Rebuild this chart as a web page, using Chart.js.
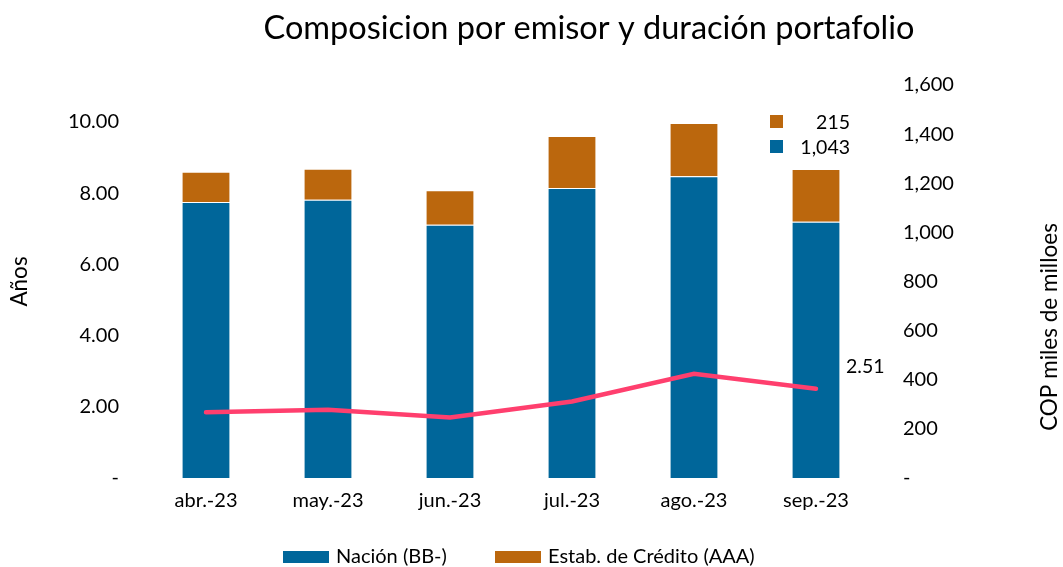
<!DOCTYPE html>
<html>
<head>
<meta charset="utf-8">
<script src="https://cdn.jsdelivr.net/npm/chart.js@4"></script>
<style>
  body { margin: 0; background: #fff; }
  #wrap { width: 1063px; height: 567px; }
</style>
</head>
<body>
<div id="wrap"><canvas id="chart" width="1063" height="567"></canvas></div>
<script>
let months = ['abr.-23', 'may.-23', 'jun.-23', 'jul.-23', 'ago.-23', 'sep.-23'];
let nacion = [1124, 1133, 1031, 1181, 1229, 1043];
let estab = [123, 126, 141, 211, 216, 215];
let duracion = [1.85, 1.92, 1.70, 2.15, 2.93, 2.51];
let leftTicks = [0, 2, 4, 6, 8, 10];
let rightTicks = [0, 200, 400, 600, 800, 1000, 1200, 1400, 1600];
let seriesNames = ['Nación (BB-)', 'Estab. de Crédito (AAA)'];

let font = 'Lato, "Open Sans", sans-serif';
let blue = '#00669a';
let orange = '#bb670d';
let pink = '#ff3f6e';

// titulo, leyenda, titulo eje derecho y etiquetas sueltas
let extras = {
  id: 'extras',
  afterDraw: (chart) => {
    let ctx = chart.ctx;
    ctx.save();
    ctx.fillStyle = '#000';
    ctx.font = '32.5px ' + font;
    ctx.textAlign = 'center';
    ctx.textBaseline = 'middle';
    ctx.fillText('Composicion por emisor y duración portafolio', 589, 29);

    // titulo eje derecho
    ctx.save();
    ctx.translate(1050, 327);
    ctx.rotate(-Math.PI / 2);
    ctx.font = '22.5px ' + font;
    ctx.fillText('COP miles de milloes', 0, 0);
    ctx.restore();

    // etiquetas del ultimo mes
    let last = months.length - 1;
    ctx.font = '19.5px ' + font;
    ctx.textAlign = 'right';
    ctx.fillStyle = orange;
    ctx.fillRect(770, 115, 13, 13);
    ctx.fillStyle = blue;
    ctx.fillRect(770, 140, 13, 13);
    ctx.fillStyle = '#000';
    ctx.fillText(estab[last].toLocaleString('en-US'), 850, 123);
    ctx.fillText(nacion[last].toLocaleString('en-US'), 850, 148);

    let pt = chart.getDatasetMeta(2).data[last];
    ctx.textAlign = 'left';
    ctx.fillText(duracion[last].toFixed(2), pt.x + 30, pt.y - 22);

    // leyenda
    ctx.font = '20px ' + font;
    let items = [[283, blue, seriesNames[0]], [495, orange, seriesNames[1]]];
    items.forEach(([x, color, text]) => {
      ctx.fillStyle = color;
      ctx.fillRect(x, 551, 46, 12);
      ctx.fillStyle = '#000';
      ctx.fillText(text, x + 53, 557);
    });
    ctx.restore();
  }
};

new Chart(document.getElementById('chart'), {
  data: {
    labels: months,
    datasets: [
      {
        type: 'bar', label: seriesNames[0], data: nacion, yAxisID: 'y1',
        backgroundColor: blue, borderColor: 'rgba(255,255,255,0.55)', borderWidth: 1,
        categoryPercentage: 1, barPercentage: 0.4, order: 2
      },
      {
        type: 'bar', label: seriesNames[1], data: estab, yAxisID: 'y1',
        backgroundColor: orange, borderColor: 'rgba(255,255,255,0.55)', borderWidth: 1,
        categoryPercentage: 1, barPercentage: 0.4, order: 2
      },
      {
        type: 'line', label: 'Duración', data: duracion, yAxisID: 'y',
        borderColor: pink, borderWidth: 4.5, pointRadius: 0, tension: 0,
        borderCapStyle: 'round', order: 1
      }
    ]
  },
  options: {
    responsive: false,
    animation: false,
    layout: { padding: { top: 85, left: 0, right: 0, bottom: 37 } },
    scales: {
      x: {
        stacked: true,
        grid: { display: false },
        border: { display: false },
        ticks: { color: '#000', font: { family: font, size: 20 }, padding: 3 },
        afterFit: (axis) => { axis.height = 52; }
      },
      y: {
        position: 'left',
        min: 0, max: 11.04,
        grid: { display: false },
        border: { display: false },
        afterBuildTicks: (axis) => { axis.ticks = leftTicks.map((v) => ({ value: v })); },
        ticks: {
          color: '#000', font: { family: font, size: 20 }, padding: 18,
          callback: (v) => v === 0 ? '-' : v.toFixed(2)
        },
        title: { display: true, text: 'Años', color: '#000', font: { family: font, size: 22.5 }, padding: { top: 6, bottom: 0 } },
        afterFit: (axis) => { axis.width = 145; }
      },
      y1: {
        position: 'right',
        stacked: true,
        min: 0, max: 1600,
        grid: { display: false },
        border: { display: false },
        afterBuildTicks: (axis) => { axis.ticks = rightTicks.map((v) => ({ value: v })); },
        ticks: {
          color: '#000', font: { family: font, size: 20 }, padding: 18,
          callback: (v) => v === 0 ? '-' : v.toLocaleString('en-US')
        },
        afterFit: (axis) => { axis.width = 186; }
      }
    },
    plugins: {
      title: { display: false },
      tooltip: { enabled: false },
      legend: { display: false }
    }
  },
  plugins: [extras]
});
</script>
</body>
</html>
